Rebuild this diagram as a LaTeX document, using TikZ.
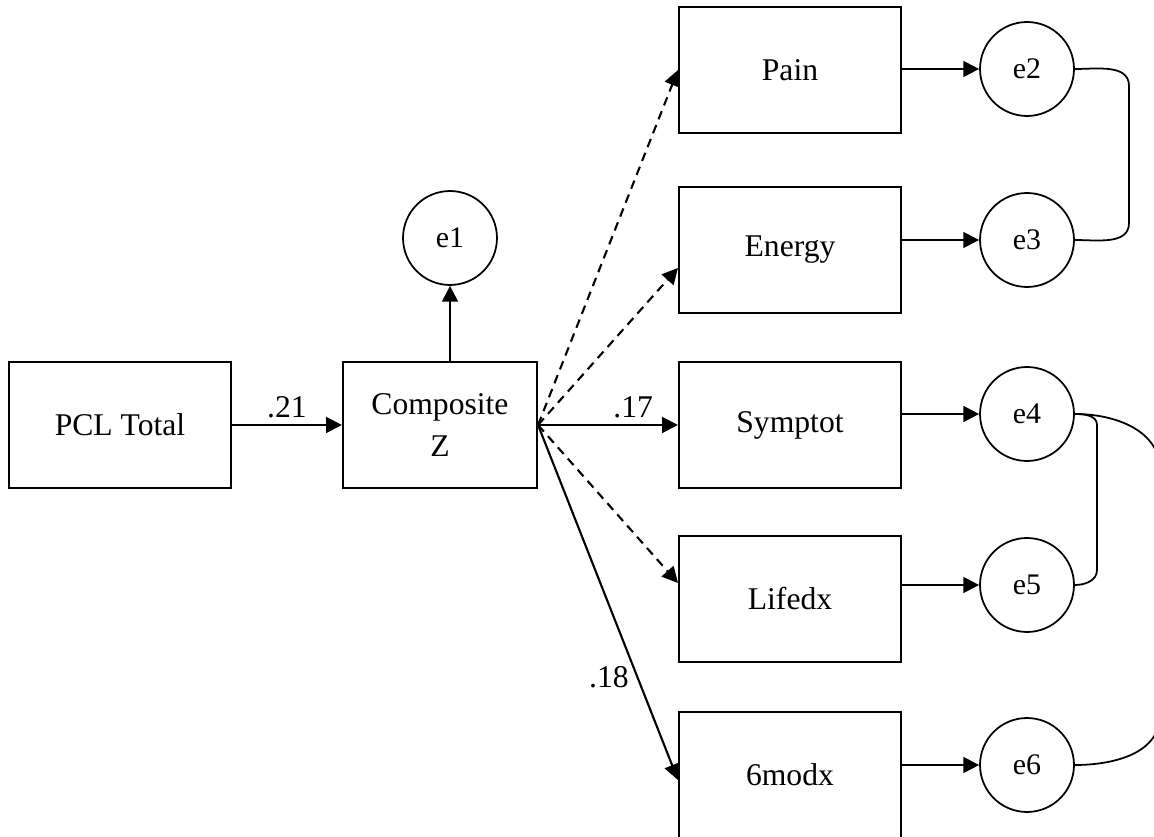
\documentclass[tikz,border=0pt]{standalone}
\usepackage{fontspec}
\setmainfont{Liberation Serif}
\usetikzlibrary{arrows.meta}

\begin{document}
\begin{tikzpicture}[x=0.02cm, y=-0.02cm,
    font=\fontsize{18}{24}\selectfont,
    obsbox/.style={draw, line width=1.2pt, minimum width=4.44cm, minimum height=2.52cm, align=center},
    errnode/.style={draw, circle, line width=1pt, minimum size=1.88cm, inner sep=0pt, font=\fontsize{17}{20}\selectfont},
    regpath/.style={line width=1.2pt, -{Triangle[length=9pt,width=9pt]}},
    dashpath/.style={regpath, dash pattern=on 5pt off 3.5pt},
    covpath/.style={line width=1pt}]
    \useasboundingbox (0,0) rectangle (1154,837);

    % Predictor and composite
    \node[obsbox] (pcl) at (120,425) {PCL Total};
    \node[obsbox, minimum width=3.88cm] (comp) at (440,425) {Composite\\Z};
    \node[errnode] (e1) at (450,238) {e1};

    % Outcome boxes with their errors
    \foreach \name/\txt/\y/\err/\ey in {
        pain/Pain/70/e2/69,
        energy/Energy/250/e3/240,
        symptot/Symptot/425/e4/414,
        lifedx/Lifedx/599/e5/585,
        modx/6modx/775/e6/765
    } {
        \node[obsbox] (\name) at (790,\y) {\txt};
        \node[errnode] (\err) at (1027,\ey) {\err};
        \draw[regpath] (\name.east |- \err) -- (\err);
    }

    % Paths
    \draw[regpath] (pcl) -- (comp) node[midway, above] {.21};
    \draw[regpath] (comp.north -| e1) -- (e1);
    \draw[dashpath] (comp.east) -- (pain.west);
    \draw[dashpath] (comp.east) -- ([yshift=-0.36cm]energy.west);
    \draw[regpath] (comp.east) -- (symptot.west) node[pos=0.68, above] {.17};
    \draw[dashpath] (comp.east) -- ([yshift=0.32cm]lifedx.west);
    \draw[regpath] (comp.east) -- ([yshift=-0.1cm]modx.west) node[pos=0.71, left=1pt] {.18};

    % Error covariances
    \draw[covpath] (e2.east) to[out=0, in=90] (1129,86) -- (1129,223) to[out=-90, in=0] (e3.east);
    \draw[covpath] (e4.east) to[out=0, in=90] (1097,425) -- (1097,570) to[out=-90, in=0] (e5.east);
    \draw[covpath] (e4.east) to[out=0, in=90] (1160,470) -- (1160,715) to[out=-90, in=0] (e6.east);
\end{tikzpicture}
\end{document}
